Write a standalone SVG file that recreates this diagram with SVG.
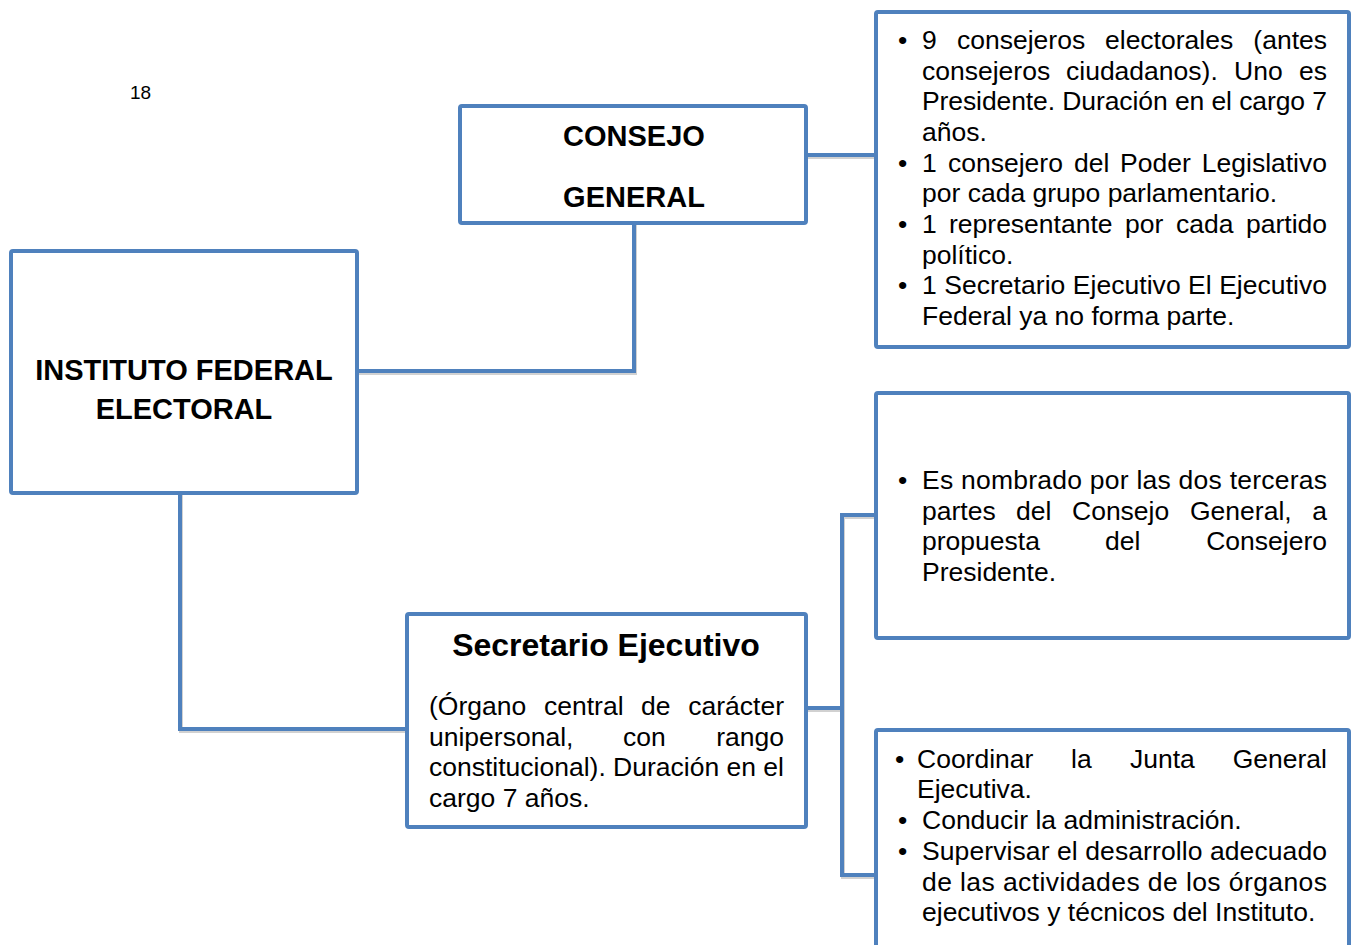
<svg xmlns="http://www.w3.org/2000/svg" width="1351" height="945" viewBox="0 0 1351 945">
<style>
.box{fill:#fff;stroke:#4F81BD;stroke-width:4;stroke-linejoin:round}
.con{fill:none;stroke:#4F81BD;stroke-width:4}
.sh{fill:none;stroke:#000;stroke-opacity:0.18;stroke-width:4}
.t{font-family:"Liberation Sans",Arial,sans-serif;font-size:26.5px;fill:#000}
.b{font-family:"Liberation Sans",Arial,sans-serif;font-weight:bold;fill:#000}
.e{text-anchor:end}
</style>
<rect width="1351" height="945" fill="#fff"/>
<text class="t" x="130" y="99" style="font-size:19px">18</text>
<g id="connectors">
<g class="sh" transform="translate(1,2)">
<polyline points="357,371 634,371 634,223"/>
<polyline points="806,155 876,155"/>
<polyline points="180,493 180,729 407,729"/>
<polyline points="806,708 842,708"/>
<polyline points="876,515 842,515 842,875 876,875"/>
</g>
<polyline class="con" points="357,371 634,371 634,223"/>
<polyline class="con" points="806,155 876,155"/>
<polyline class="con" points="180,493 180,729 407,729"/>
<polyline class="con" points="806,708 842,708"/>
<polyline class="con" points="876,515 842,515 842,875 876,875"/>
</g>
<g id="ife">
<rect class="box" x="11" y="251" width="346" height="242" rx="2"/>
<text class="b" x="184" y="380" text-anchor="middle" font-size="29">INSTITUTO FEDERAL</text>
<text class="b" x="184" y="419" text-anchor="middle" font-size="29">ELECTORAL</text>
</g>
<g id="consejo">
<rect class="box" x="460" y="106" width="346" height="117" rx="2"/>
<text class="b" x="634" y="146" text-anchor="middle" font-size="29">CONSEJO</text>
<text class="b" x="634" y="207" text-anchor="middle" font-size="29">GENERAL</text>
</g>
<g id="consejo-detalle">
<rect class="box" x="876" y="12" width="473" height="335" rx="2"/>
<g class="t">
<text x="898" y="49">•</text>
<text x="922" y="49">9</text><text x="957" y="49">consejeros</text><text x="1105" y="49">electorales</text><text class="e" x="1327" y="49">(antes</text>
<text x="922" y="80">consejeros</text><text x="1066" y="80">ciudadanos).</text><text x="1234" y="80">Uno</text><text class="e" x="1327" y="80">es</text>
<text x="922" y="110" textLength="405" lengthAdjust="spacing">Presidente. Duración en el cargo 7</text>
<text x="922" y="141">años.</text>
<text x="898" y="172">•</text>
<text x="922" y="172">1</text><text x="948" y="172">consejero</text><text x="1074" y="172">del</text><text x="1120" y="172">Poder</text><text class="e" x="1327" y="172">Legislativo</text>
<text x="922" y="202">por cada grupo parlamentario.</text>
<text x="898" y="233">•</text>
<text x="922" y="233">1</text><text x="949" y="233">representante</text><text x="1125" y="233">por</text><text x="1176" y="233">cada</text><text class="e" x="1327" y="233">partido</text>
<text x="922" y="264">político.</text>
<text x="898" y="294">•</text>
<text x="922" y="294" textLength="405" lengthAdjust="spacing">1 Secretario Ejecutivo El Ejecutivo</text>
<text x="922" y="325">Federal ya no forma parte.</text>
</g>
</g>
<g id="nombramiento">
<rect class="box" x="876" y="393" width="473" height="245" rx="2"/>
<g class="t">
<text x="898" y="489">•</text>
<text x="922" y="489" textLength="405" lengthAdjust="spacing">Es nombrado por las dos terceras</text>
<text x="922" y="520">partes</text><text x="1016" y="520">del</text><text x="1072" y="520">Consejo</text><text x="1190" y="520">General,</text><text class="e" x="1327" y="520">a</text>
<text x="922" y="550">propuesta</text><text x="1105" y="550">del</text><text class="e" x="1327" y="550">Consejero</text>
<text x="922" y="581">Presidente.</text>
</g>
</g>
<g id="secretario">
<rect class="box" x="407" y="614" width="399" height="213" rx="2"/>
<text class="b" x="606" y="656" text-anchor="middle" font-size="32">Secretario Ejecutivo</text>
<g class="t">
<text x="429" y="715">(Órgano</text><text x="544" y="715">central</text><text x="641" y="715">de</text><text class="e" x="784" y="715">carácter</text>
<text x="429" y="746">unipersonal,</text><text x="623" y="746">con</text><text class="e" x="784" y="746">rango</text>
<text x="429" y="776" textLength="355" lengthAdjust="spacing">constitucional). Duración en el</text>
<text x="429" y="807">cargo 7 años.</text>
</g>
</g>
<g id="funciones">
<rect class="box" x="876" y="730" width="473" height="225" rx="2"/>
<g class="t">
<text x="895" y="768">•</text>
<text x="917" y="768">Coordinar</text><text x="1071" y="768">la</text><text x="1130" y="768">Junta</text><text class="e" x="1327" y="768">General</text>
<text x="917" y="798">Ejecutiva.</text>
<text x="898" y="829">•</text>
<text x="922" y="829">Conducir la administración.</text>
<text x="898" y="860">•</text>
<text x="922" y="860" textLength="405" lengthAdjust="spacing">Supervisar el desarrollo adecuado</text>
<text x="922" y="891" textLength="405" lengthAdjust="spacing">de las actividades de los órganos</text>
<text x="922" y="921">ejecutivos y técnicos del Instituto.</text>
</g>
</g>
</svg>
